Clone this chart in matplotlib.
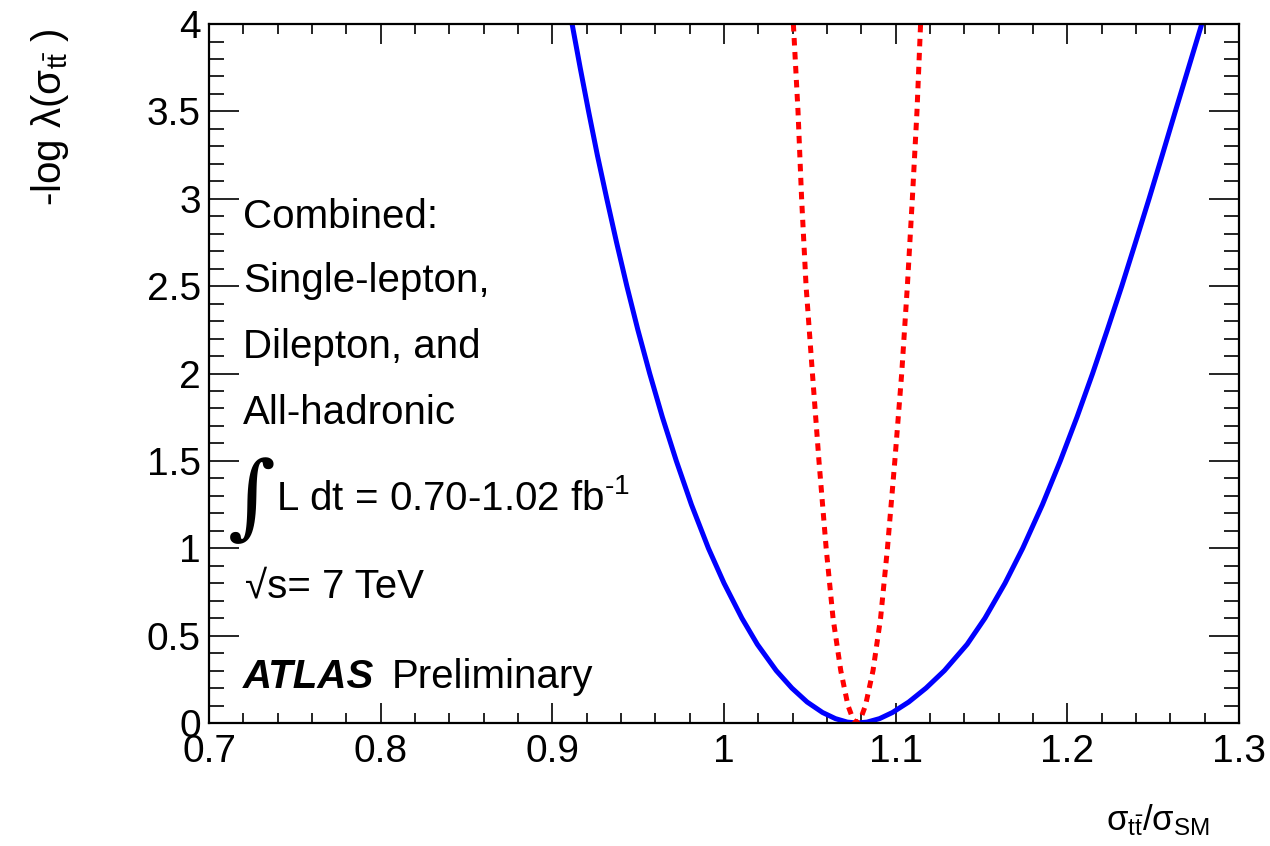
import numpy as np
import matplotlib
matplotlib.use("Agg")
import matplotlib.pyplot as plt
from matplotlib.ticker import MultipleLocator, FuncFormatter

plt.rcParams['font.family'] = ['Liberation Sans', 'DejaVu Sans']
plt.rcParams['mathtext.fontset'] = 'custom'
plt.rcParams['mathtext.rm'] = 'Liberation Sans'
plt.rcParams['mathtext.it'] = 'Liberation Sans:italic'
plt.rcParams['mathtext.bf'] = 'Liberation Sans:bold'
plt.rcParams['mathtext.default'] = 'regular'

# combined likelihood scan
comb_x = [0.9115, 0.9162, 0.9211, 0.9262, 0.9317, 0.9374, 0.9434, 0.9498, 0.9567, 0.9641,
          0.9722, 0.981, 0.9909, 1.000, 1.0104, 1.0194, 1.0304, 1.0395, 1.0484, 1.0574,
          1.0649, 1.0718, 1.0775,
          1.0833, 1.0906, 1.0981, 1.1076, 1.1177, 1.1284, 1.1416, 1.152, 1.1637, 1.174,
          1.1855, 1.1959, 1.2056, 1.2147, 1.2233, 1.2317, 1.2397, 1.2476, 1.2553, 1.2629,
          1.2706, 1.2783]
comb_y = [4.0, 3.75, 3.5, 3.25, 3.0, 2.75, 2.5, 2.25, 2.0, 1.75,
          1.5, 1.25, 1.0, 0.8, 0.6, 0.45, 0.3, 0.2, 0.12, 0.06,
          0.025, 0.005, 0.0,
          0.005, 0.025, 0.06, 0.12, 0.2, 0.3, 0.45, 0.6, 0.8, 1.0,
          1.25, 1.5, 1.75, 2.0, 2.25, 2.5, 2.75, 3.0, 3.25, 3.5,
          3.75, 4.0]

# stat-only scan (dotted)
stat_x = [1.0404, 1.0431, 1.0452, 1.0478, 1.0515, 1.0553, 1.0595, 1.0635, 1.0680,
          1.0722, 1.0752, 1.0773, 1.0794, 1.0824, 1.0868, 1.0912, 1.0952, 1.0995,
          1.1035, 1.1068, 1.1097, 1.1124, 1.1145]
stat_y = [4.0, 3.5, 3.0, 2.5, 2.0, 1.5, 1.0, 0.6, 0.3,
          0.1, 0.02, 0.0, 0.02, 0.1, 0.3, 0.6, 1.0, 1.5,
          2.0, 2.5, 3.0, 3.5, 4.0]

info_lines = ["Combined:", "Single-lepton,", "Dilepton, and", "All-hadronic"]

fig, ax = plt.subplots(figsize=(12.7, 8.46), dpi=100)
fig.subplots_adjust(left=0.1646, right=0.9756, top=0.9716, bottom=0.1454)

ax.plot(comb_x, comb_y, color='#0000ff', lw=3.6, solid_capstyle='butt', solid_joinstyle='round')
ax.plot(stat_x, stat_y, color='#ff0000', lw=3.6, dashes=(1.5, 1.3))

ax.set_xlim(0.7, 1.3)
ax.set_ylim(0, 4)
ax.xaxis.set_major_locator(MultipleLocator(0.1))
ax.xaxis.set_minor_locator(MultipleLocator(0.02))
ax.yaxis.set_major_locator(MultipleLocator(0.5))
ax.yaxis.set_minor_locator(MultipleLocator(0.1))
fmt = FuncFormatter(lambda v, p: '%g' % round(v, 3))
ax.xaxis.set_major_formatter(fmt)
ax.yaxis.set_major_formatter(fmt)

ax.tick_params(which='both', direction='in', top=True, right=True, width=1.2, colors='black')
ax.tick_params(axis='x', which='major', length=14.4, pad=8, labelsize=28)
ax.tick_params(axis='x', which='minor', length=7.2)
ax.tick_params(axis='y', which='major', length=21.6, pad=6, labelsize=28)
ax.tick_params(axis='y', which='minor', length=10.8)
for sp in ax.spines.values():
    sp.set_linewidth(1.6)

ax.text(0.972, -0.153, r'$\sigma_{t\bar{t}}/\sigma_{SM}$', transform=ax.transAxes,
        ha='right', va='baseline', fontsize=25)
ax.text(-0.154, 0.994, r'-log $\lambda$($\sigma_{t\bar{t}}$ )', transform=ax.transAxes,
        rotation=90, ha='center', va='top', fontsize=29)

ys = [0.708, 0.616, 0.522, 0.428]
for s, yy in zip(info_lines, ys):
    ax.text(0.033, yy, s, transform=ax.transAxes, fontsize=29, va='baseline')

ax.text(0.041, 0.316, u'\u222b', transform=ax.transAxes, fontsize=66,
        family='DejaVu Serif', ha='center', va='center')
ax.text(0.065, 0.305, r'L dt = 0.70-1.02 fb$^{\text{-1}}$', transform=ax.transAxes,
        fontsize=29, va='baseline')
ax.text(0.035, 0.180, u'\u221as= 7 TeV', transform=ax.transAxes, fontsize=29, va='baseline')
ax.text(0.033, 0.050, 'ATLAS', transform=ax.transAxes, fontsize=29,
        fontweight='bold', fontstyle='italic', va='baseline')
ax.text(0.177, 0.050, 'Preliminary', transform=ax.transAxes, fontsize=29, va='baseline')

plt.savefig("out.png", dpi=100)
